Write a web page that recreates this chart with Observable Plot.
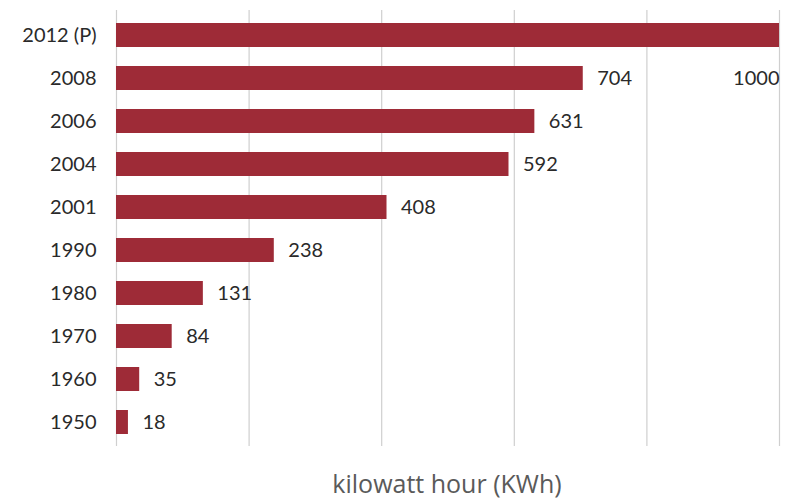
<!DOCTYPE html>
<html>
<head>
<meta charset="utf-8">
<script src="https://cdn.jsdelivr.net/npm/d3@7"></script>
<script src="https://cdn.jsdelivr.net/npm/@observablehq/plot@0.6"></script>
<style>
  body { margin: 0; background: #fff; overflow: hidden; }
  #chart { width: 786px; }
  .caption { width: 786px; font-family: "Open Sans", sans-serif; font-size: 25px; line-height: 30px; color: #5a5a5a; }
  .caption span { display: block; position: relative; left: 447px; transform: translateX(-50%); width: max-content; margin-top: 18px; }
</style>
</head>
<body>
<div id="chart"></div>
<div class="caption"><span>kilowatt hour (KWh)</span></div>
<script>
const years = ["2012 (P)", "2008", "2006", "2004", "2001", "1990", "1980", "1970", "1960", "1950"];
const values = [1000, 704, 631, 592, 408, 238, 131, 84, 35, 18];
const gridTicks = [0, 200, 400, 600, 800, 1000];

const data = years.map((y, i) => ({year: y, value: values[i]}));
const labelsInline = data.filter(d => d.value < 1000);
const labelsBelow = data.filter(d => d.value >= 1000);

const plot = Plot.plot({
  width: 786,
  height: 450,
  marginLeft: 116,
  marginRight: 7,
  marginTop: 10,
  marginBottom: 4,
  style: {fontFamily: "Lato, sans-serif", fontSize: "20px", color: "#2a2a2a"},
  x: {domain: [0, 1000], axis: null},
  y: {domain: years, paddingInner: 0.45, paddingOuter: 0.225, label: null, axis: null},
  marks: [
    Plot.ruleX(gridTicks, {stroke: "#cfcfcf", strokeWidth: 1.2}),
    Plot.barX(data, {x: "value", y: "year", fill: "#9e2b37"}),
    Plot.text(labelsInline, {x: "value", y: "year", text: d => String(d.value), textAnchor: "start", dx: 14, fontSize: 20, fill: "#2a2a2a"}),
    Plot.text(labelsBelow, {x: "value", y: "year", text: d => String(d.value), textAnchor: "end", dy: 43, fontSize: 20, fill: "#2a2a2a"}),
    Plot.axisY({tickSize: 0, tickPadding: 20, fontSize: 20, label: null})
  ]
});
document.getElementById("chart").appendChild(plot);
</script>
</body>
</html>
